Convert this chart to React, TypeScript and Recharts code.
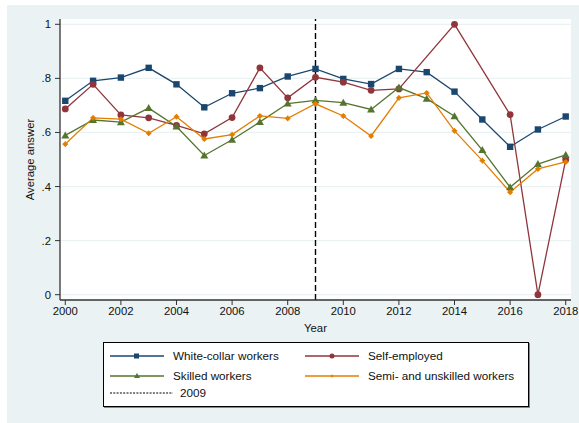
import React from "react";
import { CartesianGrid, Line, LineChart, ReferenceLine, XAxis, YAxis } from "recharts";

const years = [2000, 2001, 2002, 2003, 2004, 2005, 2006, 2007, 2008, 2009, 2010, 2011, 2012, 2013, 2014, 2015, 2016, 2017, 2018];
const whiteCollar = [0.717, 0.791, 0.803, 0.839, 0.778, 0.693, 0.745, 0.764, 0.807, 0.835, 0.798, 0.779, 0.835, 0.823, 0.751, 0.648, 0.547, 0.611, 0.659];
const selfEmployed = [0.687, 0.778, 0.665, 0.654, 0.626, 0.595, 0.655, 0.839, 0.728, 0.804, 0.786, 0.756, 0.761, null, 1.0, null, 0.666, 0.0, 0.499];
const skilled = [0.589, 0.646, 0.638, 0.69, 0.622, 0.515, 0.573, 0.639, 0.707, 0.719, 0.71, 0.685, 0.766, 0.725, 0.66, 0.535, 0.397, 0.483, 0.517];
const semiUnskilled = [0.557, 0.654, 0.649, 0.597, 0.658, 0.576, 0.592, 0.661, 0.652, 0.706, 0.661, 0.587, 0.728, 0.746, 0.606, 0.496, 0.379, 0.465, 0.491];
const xTicks = [2000, 2002, 2004, 2006, 2008, 2010, 2012, 2014, 2016, 2018];
const yTicks = [0, 0.2, 0.4, 0.6, 0.8, 1];
const cutoffYear = 2009;

const BLUE = "#1a476f";
const RED = "#90353b";
const GREEN = "#55752f";
const ORANGE = "#e37e00";
const BG = "#eaf2f3";
const FONT = "'Liberation Sans', Arial, Helvetica, sans-serif";

const data = years.map((year, i) => ({
  year,
  whiteCollar: whiteCollar[i],
  selfEmployed: selfEmployed[i],
  skilled: skilled[i],
  semiUnskilled: semiUnskilled[i],
}));

function fmtY(v: number): string {
  if (v === 0) return "0";
  if (v === 1) return "1";
  return String(v).replace("0.", ".");
}

const ok = (p: any) => p && p.cx != null && p.cy != null && p.value != null;

function squareDot(p: any) {
  if (!ok(p)) return <g key={p.key} />;
  return <rect key={p.key} x={p.cx - 3.2} y={p.cy - 3.2} width={6.4} height={6.4} fill={BLUE} />;
}
function circleDot(p: any) {
  if (!ok(p)) return <g key={p.key} />;
  return <circle key={p.key} cx={p.cx} cy={p.cy} r={3.4} fill={RED} />;
}
function triangleDot(p: any) {
  if (!ok(p)) return <g key={p.key} />;
  const { cx, cy } = p;
  return <path key={p.key} d={`M${cx},${cy - 4} L${cx + 4},${cy + 3} L${cx - 4},${cy + 3} Z`} fill={GREEN} />;
}
function plusDot(p: any) {
  if (!ok(p)) return <g key={p.key} />;
  const { cx, cy } = p;
  return (
    <g key={p.key}>
      <circle cx={cx} cy={cy} r={2.2} fill={ORANGE} />
      <path d={`M${cx - 2.8},${cy} H${cx + 2.8} M${cx},${cy - 2.8} V${cy + 2.8}`} stroke={ORANGE} strokeWidth={1.2} />
    </g>
  );
}

function LegendSample({ color, marker }: { color: string; marker: string }) {
  return (
    <svg width={54} height={8} style={{ display: "block" }}>
      <line x1={0} y1={4} x2={54} y2={4} stroke={color} strokeWidth={1.3} />
      {marker === "square" && <rect x={24} y={1.5} width={5} height={5} fill={color} />}
      {marker === "circle" && <circle cx={27} cy={4} r={2.5} fill={color} />}
      {marker === "triangle" && <path d="M27,1 L30,6 L24,6 Z" fill={color} />}
      {marker === "plus" && <path d="M25.5,4 H28.5 M27,2.5 V5.5" stroke={color} strokeWidth={1} />}
    </svg>
  );
}

function LegendBox() {
  const txt: React.CSSProperties = { position: "absolute", fontSize: 11.7, color: "#111", fontFamily: FONT, lineHeight: "13px", whiteSpace: "nowrap" };
  const item = (left: number, top: number, color: string, marker: string, label: string) => (
    <>
      <div style={{ position: "absolute", left, top: top - 4 }}>
        <LegendSample color={color} marker={marker} />
      </div>
      <div style={{ ...txt, left: left + 63, top: top - 7 }}>{label}</div>
    </>
  );
  return (
    <div
      style={{
        position: "absolute",
        left: 103,
        top: 342,
        width: 424,
        height: 63,
        background: "white",
        border: "1px solid #000",
        boxShadow: "1px 1px 0 #888",
      }}
    >
      {item(6, 13, BLUE, "square", "White-collar workers")}
      {item(201, 13, RED, "circle", "Self-employed")}
      {item(6, 33, GREEN, "triangle", "Skilled workers")}
      {item(201, 33, ORANGE, "plus", "Semi- and unskilled workers")}
      <svg width={64} height={4} style={{ position: "absolute", left: 6, top: 48 }}>
        <line x1={0} y1={2} x2={63} y2={2} stroke="#000" strokeWidth={1} strokeDasharray="2 1.3" />
      </svg>
      <div style={{ ...txt, left: 76, top: 43 }}>2009</div>
    </div>
  );
}

export default function App() {
  return (
    <div style={{ position: "absolute", left: 0, top: 0, width: 579, height: 423, background: "white", fontFamily: FONT }}>
      <div style={{ position: "absolute", left: 7, top: 5, width: 572, height: 418, background: BG }} />
      <div style={{ position: "absolute", left: 0, top: 0 }}>
        <LineChart width={579} height={423} data={data} margin={{ top: 19, right: 8, left: 0, bottom: 91 }}>
          <CartesianGrid fill="white" stroke={BG} strokeWidth={1.3} vertical={false} horizontalValues={yTicks} />
          <XAxis
            dataKey="year"
            type="number"
            domain={[1999.81, 2018.19]}
            ticks={xTicks}
            interval={0}
            height={32}
            tickSize={5}
            tickMargin={2}
            stroke="#333"
            tick={{ fill: "#111", fontSize: 11.3, fontFamily: FONT }}
            axisLine={{ stroke: "#333", strokeWidth: 1.3 }}
            label={{ value: "Year", position: "insideBottom", offset: 0, fill: "#111", fontSize: 11.3, fontFamily: FONT }}
          />
          <YAxis
            type="number"
            domain={[-0.0196, 1.0196]}
            ticks={yTicks}
            interval={0}
            width={60}
            tickSize={5}
            tickMargin={4}
            tickFormatter={fmtY}
            stroke="#333"
            tick={{ fill: "#111", fontSize: 11.3, fontFamily: FONT }}
            axisLine={{ stroke: "#333", strokeWidth: 1.3 }}
            label={{
              value: "Average answer",
              angle: -90,
              position: "insideLeft",
              offset: 30,
              style: { textAnchor: "middle" },
              fill: "#111",
              fontSize: 11.3,
              fontFamily: FONT,
            }}
          />
          <ReferenceLine x={cutoffYear} stroke="#000" strokeWidth={1.4} strokeDasharray="6 3" />
          <Line dataKey="whiteCollar" stroke={BLUE} strokeWidth={1.3} dot={squareDot} isAnimationActive={false} />
          <Line dataKey="selfEmployed" stroke={RED} strokeWidth={1.3} dot={circleDot} connectNulls isAnimationActive={false} />
          <Line dataKey="skilled" stroke={GREEN} strokeWidth={1.3} dot={triangleDot} isAnimationActive={false} />
          <Line dataKey="semiUnskilled" stroke={ORANGE} strokeWidth={1.3} dot={plusDot} isAnimationActive={false} />
        </LineChart>
      </div>
      <LegendBox />
    </div>
  );
}
